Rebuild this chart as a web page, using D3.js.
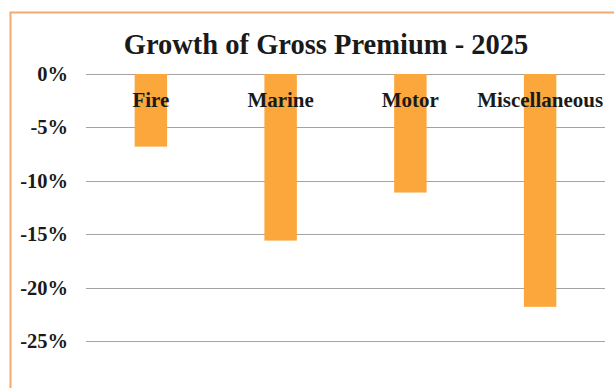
<!DOCTYPE html>
<html>
<head>
<meta charset="utf-8">
<script src="https://cdn.jsdelivr.net/npm/d3@7"></script>
<style>
  body { margin: 0; background: #fff; }
  text { font-family: "Liberation Serif", "Times New Roman", serif; font-weight: bold; fill: #1a1a1a; }
</style>
</head>
<body>
<div id="chart"></div>
<script>
// data
const categories = ["Fire", "Marine", "Motor", "Miscellaneous"];
const growth = [-6.8, -15.6, -11.1, -21.8];
const yTicks = [0, -5, -10, -15, -20, -25];

const width = 614, height = 388;
const margin = { top: 74, right: 9, bottom: 0, left: 86 };

const svg = d3.select("#chart").append("svg")
  .attr("width", width)
  .attr("height", height);

// orange frame (runs off the right and bottom edges)
svg.append("path")
  .attr("d", `M10.5,${height + 5} V12.5 H${width + 5}`)
  .attr("fill", "none")
  .attr("stroke", "#f6a96a")
  .attr("stroke-width", 2);

// scales
const x = d3.scaleBand()
  .domain(categories)
  .range([margin.left, width - margin.right])
  .paddingInner(0.75)
  .paddingOuter(0.375);

const y = d3.scaleLinear()
  .domain([0, -25])
  .range([margin.top, 341]);

// gridlines
svg.append("g")
  .selectAll("line")
  .data(yTicks)
  .join("line")
  .attr("x1", margin.left)
  .attr("x2", width - margin.right)
  .attr("y1", d => Math.round(y(d)) + 0.5)
  .attr("y2", d => Math.round(y(d)) + 0.5)
  .attr("stroke", "#a3a3a3")
  .attr("stroke-width", 1);

// y axis labels
const yAxis = d3.axisLeft(y)
  .tickValues(yTicks)
  .tickFormat(d => d + "%")
  .tickSize(0)
  .tickPadding(18);

svg.append("g")
  .attr("transform", `translate(${margin.left},0)`)
  .call(yAxis)
  .call(g => g.select(".domain").remove())
  .call(g => g.selectAll("text")
    .attr("font-family", "Liberation Serif, serif")
    .attr("font-weight", "bold")
    .attr("font-size", 20.5)
    .attr("fill", "#1a1a1a"));

// bars
svg.append("g")
  .selectAll("rect")
  .data(categories)
  .join("rect")
  .attr("x", d => x(d))
  .attr("width", x.bandwidth())
  .attr("y", y(0))
  .attr("height", (d, i) => y(growth[i]) - y(0))
  .attr("fill", "#fba73c");

// category labels on top of bars
svg.append("g")
  .selectAll("text")
  .data(categories)
  .join("text")
  .attr("x", d => x(d) + x.bandwidth() / 2)
  .attr("y", 107)
  .attr("text-anchor", "middle")
  .attr("font-size", 21)
  .text(d => d);

// title
svg.append("text")
  .attr("x", 326)
  .attr("y", 54)
  .attr("text-anchor", "middle")
  .attr("font-size", 28.5)
  .text("Growth of Gross Premium - 2025");
</script>
</body>
</html>
